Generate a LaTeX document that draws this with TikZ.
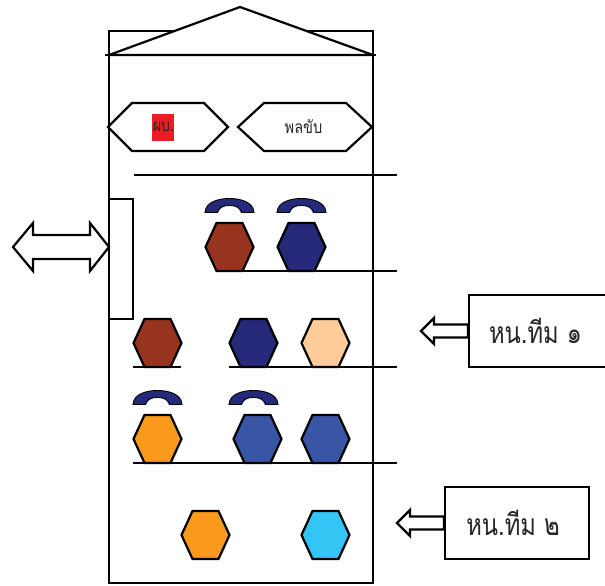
\documentclass[tikz,border=0pt]{standalone}
\usepackage{fontspec}
\newfontfamily\thaifont[Script=Thai]{Loma}
\definecolor{hbrown}{HTML}{973420}
\definecolor{hnavy}{HTML}{26297A}
\definecolor{hpeach}{HTML}{FFCC99}
\definecolor{horange}{HTML}{F99A1C}
\definecolor{hblue}{HTML}{3955A6}
\definecolor{hcyan}{HTML}{33C6F4}
\definecolor{hred}{HTML}{ED1C24}
\tikzset{
  ln/.style={draw=black,line width=2.2pt,line join=miter},
  thin ln/.style={draw=black,line width=1.8pt},
  lbl/.style={inner sep=0pt,text=black!85,font=\thaifont},
}
% name, cx, cy, half width, half height, inset, fill
\newcommand{\hexa}[7]{%
  \path[ln,fill=#7] (#2-#4,#3) -- (#2-#4+#6,#3-#5) -- (#2+#4-#6,#3-#5) -- (#2+#4,#3) -- (#2+#4-#6,#3+#5) -- (#2-#4+#6,#3+#5) -- cycle;
  \coordinate (#1) at (#2,#3);}
\newcommand{\phone}[3]{% name, cx, top
  \path[draw=black,line width=0.9pt,fill=hnavy] (#2-24.5,#3+14) .. controls (#2-24,#3+3) and (#2-10,#3) .. (#2,#3)
   .. controls (#2+10,#3) and (#2+24,#3+3) .. (#2+24.5,#3+14) -- (#2+12,#3+14)
   .. controls (#2+10,#3+8) and (#2+5,#3+7) .. (#2,#3+7)
   .. controls (#2-5,#3+7) and (#2-10,#3+8) .. (#2-12,#3+14) -- cycle;
  \coordinate (#1) at (#2,#3+7);}
\begin{document}
\begin{tikzpicture}[x=1pt,y=-1pt]
\clip (0,0) rectangle (605,586);
\fill[white] (0,0) rectangle (605,586);
% building
\path[ln] (109,31) rectangle (373,583);
\path[ln,fill=white,miter limit=2] (109,55) -- (240,7) -- (373,55) -- cycle;
\path[ln] (105,55) -- (376,55);
% side panel
\path[ln] (109,199) rectangle (133,319);
% shelves
\path[thin ln] (134,175) -- (397,175);
\path[thin ln] (229,271) -- (397,271);
\path[thin ln] (133,367) -- (181,367);
\path[thin ln] (229,367) -- (397,367);
\path[thin ln] (133,463) -- (397,463);
% header hexagons
\hexa{h1}{168}{127}{60}{24}{24}{white}
\hexa{h2}{305}{127}{67}{24}{26}{white}
\node[fill=hred,minimum width=22pt,minimum height=27pt,inner sep=0pt] (redbox) at (163,127) {};
\node[lbl] (t1) at (163.5,127) {\scalebox{1}[1.2]{\fontsize{14pt}{16pt}\selectfont ผบ.}};
\node[lbl] (t2) at (303.5,127) {\scalebox{1}[1.2]{\fontsize{14.5pt}{16pt}\selectfont พลขับ}};
% rows
\hexa{a1}{229.5}{247}{24}{24}{11}{hbrown}
\hexa{a2}{301.5}{247}{24}{24}{11}{hnavy}
\hexa{b1}{157.5}{343}{24}{24}{11}{hbrown}
\hexa{b2}{253.5}{343}{24}{24}{11}{hnavy}
\hexa{b3}{325.5}{343}{24}{24}{11}{hpeach}
\hexa{c1}{157.5}{439}{24}{24}{11}{horange}
\hexa{c2}{257.5}{439}{24}{24}{11}{hblue}
\hexa{c3}{325.5}{439}{24}{24}{11}{hblue}
\hexa{d1}{205.5}{535}{24}{24}{11}{horange}
\hexa{d2}{325.5}{535}{24}{24}{11}{hcyan}
% phones
\phone{p1}{229.5}{198.5}
\phone{p2}{301.5}{198.5}
\phone{p3}{157.5}{390.5}
\phone{p4}{253.5}{390.5}
% double arrow
\path[ln,fill=white] (13,247) -- (33,223) -- (33,235) -- (90,235) -- (90,223) -- (109,247) -- (90,271) -- (90,259) -- (33,259) -- (33,271) -- cycle;
% team boxes
\node[draw=black,line width=2.2pt,fill=white,minimum width=140pt,minimum height=72pt,inner sep=0pt] (team1) at (539,331) {};
\node[lbl] (tt1) at (535.5,331) {\scalebox{0.95}[1.2]{\fontsize{25pt}{28pt}\selectfont หน.ทีม ๑}};
\node[draw=black,line width=2.2pt,fill=white,minimum width=144pt,minimum height=72pt,inner sep=0pt] (team2) at (517,523) {};
\node[lbl] (tt2) at (513,523) {\scalebox{0.95}[1.2]{\fontsize{25pt}{28pt}\selectfont หน.ทีม ๒}};
% left arrows
\path[ln,fill=white] (421,331) -- (434,318) -- (434,324.5) -- (team1.west |- 0,324.5) -- (team1.west |- 0,337.5) -- (434,337.5) -- (434,344) -- cycle;
\path[ln,fill=white] (397,523) -- (410,510) -- (410,516.5) -- (team2.west |- 0,516.5) -- (team2.west |- 0,529.5) -- (410,529.5) -- (410,536) -- cycle;
\end{tikzpicture}
\end{document}
